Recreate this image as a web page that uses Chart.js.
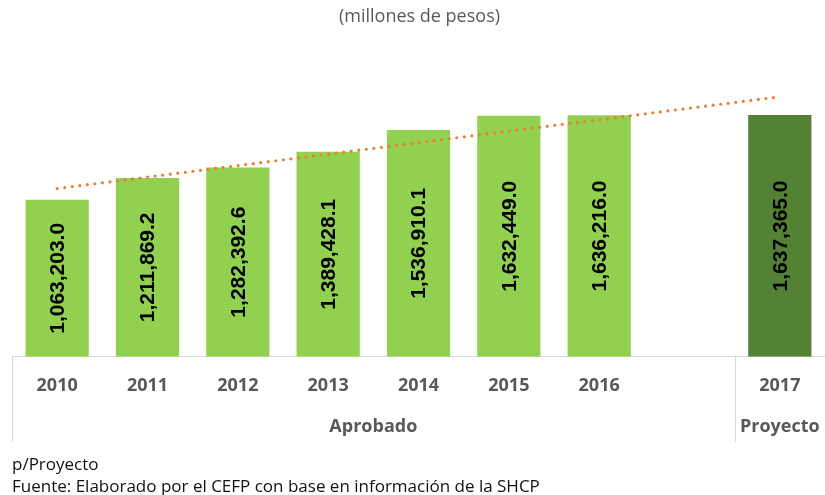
<!DOCTYPE html>
<html>
<head>
<meta charset="utf-8">
<script src="https://cdn.jsdelivr.net/npm/chart.js@4/dist/chart.umd.min.js"></script>
<style>
  html, body { margin: 0; padding: 0; background: #fff; }
</style>
</head>
<body>
<canvas id="gastoChart" width="825" height="495"></canvas>
<script>
// categorias del eje x (la vacia separa aprobado de proyecto)
const categorias = ['2010', '2011', '2012', '2013', '2014', '2015', '2016', '', '2017'];
const grupos = ['Aprobado', 'Aprobado', 'Aprobado', 'Aprobado', 'Aprobado', 'Aprobado', 'Aprobado', 'Aprobado', 'Proyecto'];

// millones de pesos
const aprobado = [1063203.0, 1211869.2, 1282392.6, 1389428.1, 1536910.1, 1632449.0, 1636216.0, null, null];
const proyecto = [null, null, null, null, null, null, null, null, 1637365.0];

// linea de tendencia, extremos
const tendencia = [1140000, null, null, null, null, null, null, null, 1762000];

const notas = ['p/Proyecto', 'Fuente: Elaborado por el CEFP con base en información de la SHCP'];

const fmt = v => v.toLocaleString('en-US', { minimumFractionDigits: 1, maximumFractionDigits: 1 });

// etiquetas verticales dentro de las barras
const etiquetasBarras = {
    id: 'etiquetasBarras',
    afterDatasetsDraw(chart) {
        const ctx = chart.ctx;
        chart.data.datasets.forEach((ds, di) => {
            if (ds.type !== 'bar') return;
            const meta = chart.getDatasetMeta(di);
            meta.data.forEach((bar, i) => {
                const v = ds.data[i];
                if (v == null) return;
                ctx.save();
                ctx.translate(bar.x, (bar.y + bar.base) / 2);
                ctx.rotate(-Math.PI / 2);
                ctx.font = 'bold 21px "Liberation Sans", Arial, sans-serif';
                ctx.fillStyle = '#000';
                ctx.textAlign = 'center';
                ctx.textBaseline = 'middle';
                ctx.fillText(fmt(v), 0, 1);
                ctx.restore();
            });
        });
    }
};

// segundo nivel del eje: Aprobado / Proyecto con lineas divisorias
const ejeGrupos = {
    id: 'ejeGrupos',
    afterDraw(chart) {
        const ctx = chart.ctx;
        const xs = chart.scales.x;
        const ancho = xs.width / categorias.length;
        const tramos = [];
        grupos.forEach((g, i) => {
            const last = tramos[tramos.length - 1];
            if (last && last.nombre === g) last.fin = i;
            else tramos.push({ nombre: g, ini: i, fin: i });
        });
        ctx.save();
        ctx.strokeStyle = '#d9d9d9';
        ctx.lineWidth = 1;
        tramos.forEach(t => {
            const x0 = xs.getPixelForValue(t.ini) - ancho / 2;
            const x1 = xs.getPixelForValue(t.fin) + ancho / 2;
            [x0, x1].forEach(x => {
                if (x > chart.width - 1) return;
                const px = Math.round(x) + 0.5;
                ctx.beginPath();
                ctx.moveTo(px, xs.top);
                ctx.lineTo(px, xs.bottom);
                ctx.stroke();
            });
            ctx.font = 'bold 18px "Open Sans", sans-serif';
            ctx.fillStyle = '#595959';
            ctx.textAlign = 'center';
            ctx.textBaseline = 'middle';
            ctx.fillText(t.nombre, (x0 + x1) / 2, xs.top + 70);
        });
        ctx.restore();
    }
};

new Chart(document.getElementById('gastoChart'), {
    data: {
        labels: categorias,
        datasets: [{
            type: 'line',
            label: 'Tendencia',
            data: tendencia,
            spanGaps: true,
            borderColor: '#ED7D31',
            borderWidth: 3.2,
            borderDash: [0, 7.6],
            borderCapStyle: 'round',
            pointRadius: 0,
            fill: false,
            order: 0
        }, {
            type: 'bar',
            label: 'Aprobado',
            data: aprobado,
            backgroundColor: '#92D050',
            grouped: false,
            categoryPercentage: 1,
            barPercentage: 0.7,
            order: 1
        }, {
            type: 'bar',
            label: 'Proyecto',
            data: proyecto,
            backgroundColor: '#548235',
            grouped: false,
            categoryPercentage: 1,
            barPercentage: 0.7,
            order: 1
        }]
    },
    options: {
        responsive: false,
        devicePixelRatio: 1,
        animation: false,
        layout: { padding: { left: 12, right: -2, top: 0, bottom: 0 } },
        plugins: {
            legend: { display: false },
            tooltip: { enabled: false },
            title: {
                display: true,
                text: '(millones de pesos)',
                color: '#595959',
                font: { family: 'Open Sans', size: 18, weight: 'normal' },
                padding: { top: 6, bottom: 34 }
            },
            subtitle: {
                display: true,
                position: 'bottom',
                align: 'start',
                text: notas,
                color: '#111',
                font: { family: 'Open Sans', size: 17, weight: 'normal', lineHeight: 1.3 },
                padding: { top: 12, bottom: -3 }
            }
        },
        scales: {
            x: {
                grid: { display: false, drawTicks: false },
                border: { display: true, color: '#d9d9d9', width: 1 },
                ticks: {
                    color: '#595959',
                    font: { family: 'Open Sans', size: 18, weight: 'bold' },
                    padding: 18,
                    maxRotation: 0,
                    autoSkip: false
                },
                afterFit: scale => { scale.height = 85; }
            },
            y: { display: false, min: 0, max: 2000000 }
        }
    },
    plugins: [etiquetasBarras, ejeGrupos]
});
</script>
</body>
</html>
